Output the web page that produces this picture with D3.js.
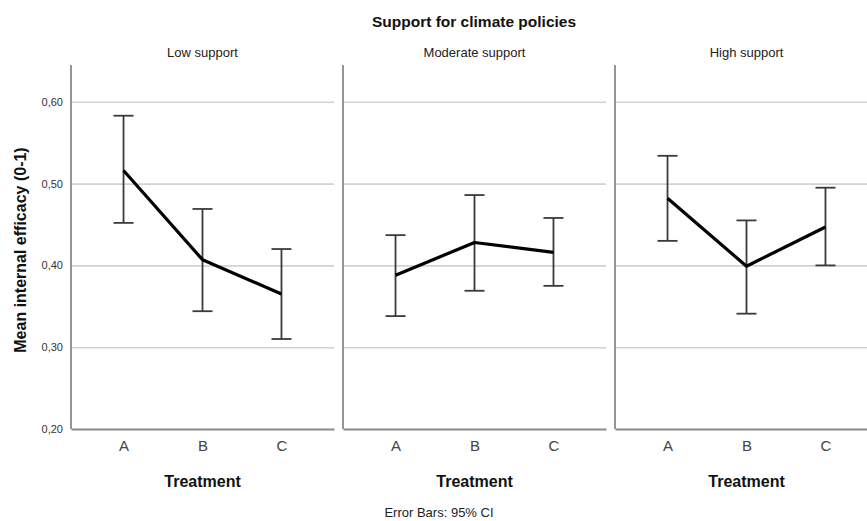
<!DOCTYPE html>
<html>
<head>
<meta charset="utf-8">
<script src="https://cdn.jsdelivr.net/npm/d3@7"></script>
<style>
  body { margin: 0; background: #fff; }
  svg { display: block; font-family: "Liberation Sans", Arial, sans-serif; }
</style>
</head>
<body>
<svg id="chart" width="867" height="521"></svg>
<script>
// ---- data ----
const groups = ["Low support", "Moderate support", "High support"];
const treatments = ["A", "B", "C"];
const meanLow = [0.516, 0.407, 0.365];
const meanModerate = [0.388, 0.428, 0.416];
const meanHigh = [0.482, 0.399, 0.447];
const lowerLow = [0.452, 0.344, 0.310];
const lowerModerate = [0.338, 0.369, 0.375];
const lowerHigh = [0.430, 0.341, 0.400];
const upperLow = [0.583, 0.469, 0.420];
const upperModerate = [0.437, 0.486, 0.458];
const upperHigh = [0.534, 0.455, 0.495];
const yTicks = [0.20, 0.30, 0.40, 0.50, 0.60];
const yDomain = [0.20, 0.645];
const titleText = "Support for climate policies";
const yTitle = "Mean internal efficacy (0-1)";
const xTitle = "Treatment";
const footnote = "Error Bars: 95% CI";

const means = [meanLow, meanModerate, meanHigh];
const lowers = [lowerLow, lowerModerate, lowerHigh];
const uppers = [upperLow, upperModerate, upperHigh];

// ---- layout ----
const svg = d3.select("#chart");
const panelLeft = [71, 343, 615];
const panelW = 263;
const plotTop = 65, plotBottom = 429;

const y = d3.scaleLinear().domain(yDomain).range([plotBottom, plotTop]);
const x = d3.scalePoint().domain(treatments).range([0, panelW]).padding(0.665);
const fmt = d3.formatLocale({decimal: ",", thousands: ".", grouping: [3], currency: ["", ""]}).format(".2f");

// title
svg.append("text").attr("x", 474).attr("y", 27).attr("text-anchor", "middle")
  .attr("font-size", "15.5px").attr("font-weight", "bold").attr("fill", "#111").text(titleText);

// y title
svg.append("text").attr("transform", "translate(26,250) rotate(-90)").attr("text-anchor", "middle")
  .attr("font-size", "16px").attr("font-weight", "bold").attr("fill", "#111").text(yTitle);

// footnote
svg.append("text").attr("x", 439).attr("y", 517).attr("text-anchor", "middle")
  .attr("font-size", "13px").attr("fill", "#222").text(footnote);

groups.forEach((g, i) => {
  const p = svg.append("g").attr("transform", `translate(${panelLeft[i]},0)`);

  // gridlines
  const grid = p.append("g").call(d3.axisLeft(y).tickValues(yTicks.slice(1)).tickSize(-panelW).tickFormat(""));
  grid.select(".domain").remove();
  grid.selectAll("line").attr("stroke", "#d2d2d2").attr("stroke-width", 1.6);

  // y labels on first panel
  if (i === 0) {
    const ya = p.append("g").call(d3.axisLeft(y).tickValues(yTicks).tickSize(0).tickPadding(8).tickFormat(fmt));
    ya.select(".domain").remove();
    ya.selectAll("text").attr("font-size", "11px").attr("fill", "#333")
      .attr("font-family", "'Liberation Sans', Arial, sans-serif");
  }

  // x axis
  const xa = p.append("g").attr("transform", `translate(0,${plotBottom})`)
    .call(d3.axisBottom(x).tickSize(0).tickSizeOuter(0).tickPadding(11));
  xa.select(".domain").attr("stroke", "#8a8a8a").attr("stroke-width", 1.8);
  xa.selectAll("text").attr("font-size", "15px").attr("fill", "#444")
    .attr("font-family", "'Liberation Sans', Arial, sans-serif");

  // left axis line
  p.append("line").attr("x1", 0).attr("x2", 0).attr("y1", y(yDomain[1])).attr("y2", plotBottom)
    .attr("stroke", "#8a8a8a").attr("stroke-width", 1.8);

  // strip label
  p.append("text").attr("x", panelW / 2).attr("y", 57).attr("text-anchor", "middle")
    .attr("font-size", "13px").attr("fill", "#222").text(g);

  // x title
  p.append("text").attr("x", panelW / 2).attr("y", 487).attr("text-anchor", "middle")
    .attr("font-size", "16px").attr("font-weight", "bold").attr("fill", "#111").text(xTitle);

  // error bars
  const eb = p.append("g").attr("stroke", "#3a3a3a").attr("stroke-width", 1.8);
  treatments.forEach((t, j) => {
    const cx = x(t);
    eb.append("line").attr("x1", cx).attr("x2", cx).attr("y1", y(lowers[i][j])).attr("y2", y(uppers[i][j]));
    eb.append("line").attr("x1", cx - 10).attr("x2", cx + 10).attr("y1", y(lowers[i][j])).attr("y2", y(lowers[i][j]));
    eb.append("line").attr("x1", cx - 10).attr("x2", cx + 10).attr("y1", y(uppers[i][j])).attr("y2", y(uppers[i][j]));
  });

  // mean line
  const line = d3.line().x((d, j) => x(treatments[j])).y(d => y(d));
  p.append("path").datum(means[i]).attr("d", line).attr("fill", "none")
    .attr("stroke", "#000").attr("stroke-width", 3.2).attr("stroke-linejoin", "round");
});
</script>
</body>
</html>
